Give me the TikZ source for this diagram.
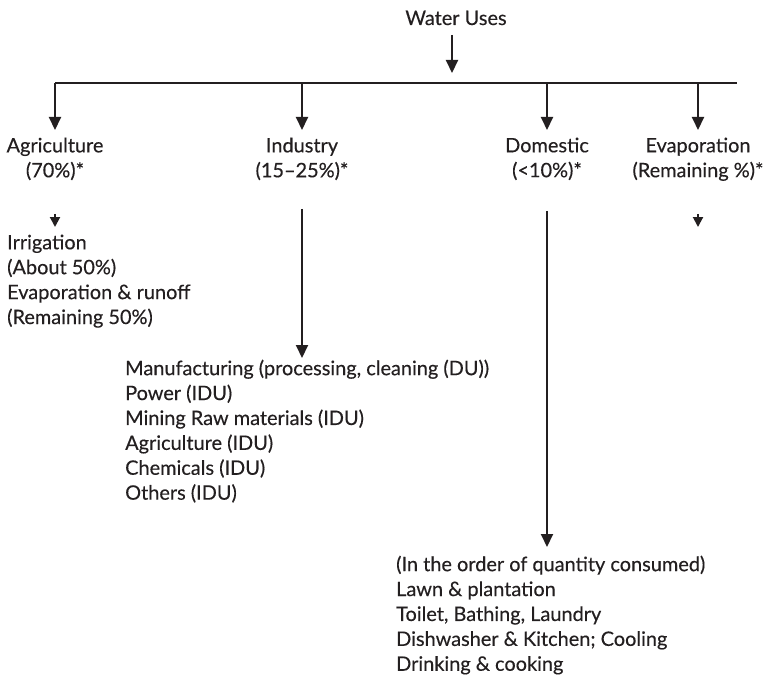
\documentclass[tikz,border=0pt]{standalone}
\usepackage{fontspec}
\setmainfont{Lato}[FakeBold=0.3]
\usepackage{xcolor}
\usetikzlibrary{arrows.meta}
\definecolor{ink}{HTML}{231F20}

\begin{document}
\begin{tikzpicture}[
    x=1bp, y=-1bp,
    every node/.style={inner sep=0pt, text=ink, font=\fontsize{20}{25}\selectfont},
    use/.style={align=center, anchor=north, execute at begin node=\strut},
    list/.style={align=left, anchor=north west, execute at begin node=\strut},
    bar line/.style={draw=ink, line width=2bp},
    normal line/.style={draw=ink, line width=2bp, -{Triangle[length=13bp,width=12bp]}},
    short line/.style={draw=ink, line width=2bp, -{Triangle[length=10bp,width=10bp]}}
  ]
\useasboundingbox (0,0) rectangle (764,682);

\node[anchor=base] (water) at (456,25) {Water Uses};
\coordinate (split) at (452,83);
\coordinate (bar west) at (55,83);
\coordinate (bar east) at (737,83);

% the four uses
\node[use] (agri) at (55,137.5) {Agriculture\\(70\%)*};
\node[use] (ind) at (302,137.5) {Industry\\(15--25\%)*};
\node[use] (dom) at (547,137.5) {Domestic\\(<10\%)*};
\node[use] (evap) at (698,137.5) {Evaporation\\(Remaining \%)*};

% what each use splits into
\node[list] (irr) at (7,234.5) {Irrigation\\(About 50\%)\\Evaporation \& runoff\\(Remaining 50\%)};
\node[list] (indlist) at (125,359.5) {Manufacturing (processing, cleaning (DU))\\Power (IDU)\\Mining Raw materials (IDU)\\Agriculture (IDU)\\Chemicals (IDU)\\Others (IDU)};
\node[list] (domlist) at (396,555.5) {(In the order of quantity consumed)\\Lawn \& plantation\\Toilet, Bathing, Laundry\\Dishwasher \& Kitchen; Cooling\\Drinking \& cooking};
\coordinate (evap end) at (698,227);

\draw[normal line] ([yshift=-10bp]water.base -| split) -- ([yshift=10bp]split);
\draw[bar line] (bar west) -- (bar east);
\draw[normal line] (agri.north |- bar west) -- ([yshift=7.5bp]agri.north);
\draw[normal line] (ind.north |- bar west) -- ([yshift=7.5bp]ind.north);
\draw[normal line] (dom.north |- bar west) -- ([yshift=7.5bp]dom.north);
\draw[normal line] (evap.north |- bar west) -- ([yshift=7.5bp]evap.north);
%
\draw[short line] ([yshift=-29bp]agri.south) -- ([yshift=7.5bp]irr.north -| agri.south);
\draw[normal line] ([yshift=-24bp]ind.south) -- ([yshift=1.5bp]indlist.north -| ind.south);
\draw[normal line] ([yshift=-26bp]dom.south) -- ([yshift=8.5bp]domlist.north -| dom.south);
\draw[short line] ([yshift=-29bp]evap.south) -- (evap end);
\end{tikzpicture}
\end{document}
